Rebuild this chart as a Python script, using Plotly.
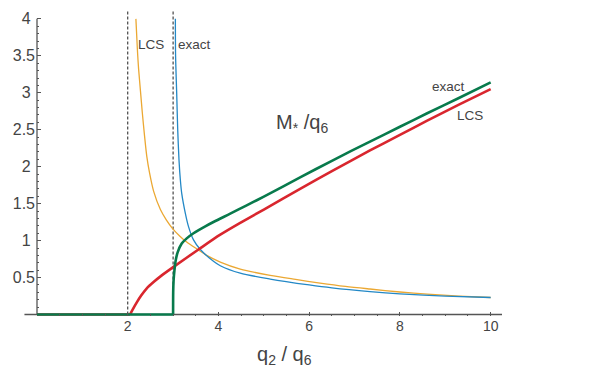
import plotly.graph_objects as go

# ---- data ----
# M*/q6, exact (green): zero up to q2/q6 = 3, then rises
exact_M_x = [0, 3.0, 3.002, 3.01, 3.03, 3.06, 3.1, 3.19, 3.3, 3.45, 3.7, 3.9, 4.26, 4.6, 5.0, 5.8, 6.5, 7.34, 8.0, 8.59, 9.3, 10]
exact_M_y = [0, 0, 0.3, 0.45, 0.6, 0.74, 0.84, 0.96, 1.03, 1.10, 1.19, 1.255, 1.365, 1.47, 1.595, 1.855, 2.08, 2.34, 2.54, 2.72, 2.93, 3.14]

# M*/q6, LCS (red): zero up to about 2.05, then rises
lcs_M_x = [0, 2.05, 2.12, 2.2, 2.3, 2.42, 2.57, 2.75, 3.01, 3.56, 4.04, 4.48, 5.0, 5.8, 6.5, 7.34, 8.0, 8.59, 9.3, 10]
lcs_M_y = [0, 0, 0.08, 0.165, 0.26, 0.355, 0.44, 0.53, 0.645, 0.88, 1.08, 1.24, 1.42, 1.70, 1.94, 2.22, 2.43, 2.62, 2.84, 3.05]

# thin orange (LCS) diverging curve
lcs_x = [2.18, 2.21, 2.24, 2.28, 2.32, 2.37, 2.42, 2.48, 2.57, 2.72, 2.85, 2.98, 3.15, 3.30, 3.54, 3.74, 4.04, 4.48, 5.14, 5.7, 6.24, 6.8, 7.34, 8.0, 8.6, 9.3, 10]
lcs_y = [4.0, 3.62, 3.32, 3.03, 2.74, 2.42, 2.14, 1.92, 1.67, 1.42, 1.28, 1.17, 1.06, 0.98, 0.88, 0.80, 0.71, 0.615, 0.53, 0.475, 0.425, 0.38, 0.345, 0.305, 0.277, 0.25, 0.23]

# thin blue (exact) diverging curve
exact_x = [3.05, 3.055, 3.079, 3.102, 3.13, 3.16, 3.19, 3.27, 3.34, 3.45, 3.60, 3.89, 4.04, 4.48, 5.14, 6.0, 6.5, 7.34, 8.0, 9.0, 10]
exact_y = [4.0, 3.5, 3.0, 2.5, 2.09, 1.82, 1.64, 1.37, 1.19, 1.01, 0.88, 0.72, 0.66, 0.56, 0.48, 0.40, 0.36, 0.31, 0.28, 0.25, 0.23]

thresholds = [2, 3]
x_ticks = [2, 4, 6, 8, 10]
y_ticks = [0.5, 1, 1.5, 2, 2.5, 3, 3.5, 4]
y_tick_text = ["0.5", "1&nbsp;", "1.5", "2&nbsp;", "2.5", "3&nbsp;", "3.5", "4&nbsp;"]

ORANGE = "#EBA833"
BLUE = "#2388C6"
RED = "#D9262E"
GREEN = "#087A4C"
AX = "#555555"
TXT = "#444444"
FONT = "Liberation Sans, Arial, sans-serif"

XR = [0, 10.25]
YR = [-0.02, 4.12]

fig = go.Figure()
fig.add_trace(go.Scatter(x=lcs_x, y=lcs_y, mode="lines",
                         line=dict(color=ORANGE, width=1.3, shape="spline", smoothing=0.8)))
fig.add_trace(go.Scatter(x=exact_x, y=exact_y, mode="lines",
                         line=dict(color=BLUE, width=1.3, shape="spline", smoothing=0.8)))
# flat parts (linear) and rising parts (smooth)
fig.add_trace(go.Scatter(x=lcs_M_x[:2], y=lcs_M_y[:2], mode="lines", line=dict(color=RED, width=2.6)))
fig.add_trace(go.Scatter(x=lcs_M_x[1:], y=lcs_M_y[1:], mode="lines",
                         line=dict(color=RED, width=2.6, shape="spline", smoothing=0.8)))
fig.add_trace(go.Scatter(x=exact_M_x[:2], y=exact_M_y[:2], mode="lines", line=dict(color=GREEN, width=2.6)))
fig.add_trace(go.Scatter(x=exact_M_x[1:], y=exact_M_y[1:], mode="lines",
                         line=dict(color=GREEN, width=2.6, shape="spline", smoothing=0.8)))

shapes = []
# x axis line, extending a little left of the origin
shapes.append(dict(type="line", xref="paper", yref="y", x0=-0.027, x1=1, y0=0, y1=0,
                   line=dict(color=AX, width=1.3), layer="below"))
# y axis line at x = 0, up to 4
shapes.append(dict(type="line", xref="paper", yref="y", x0=0, x1=0, y0=0, y1=4,
                   line=dict(color=AX, width=1.3), layer="below"))
for t in thresholds:
    shapes.append(dict(type="line", xref="x", yref="y", x0=t, x1=t, y0=0, y1=YR[1],
                       line=dict(color="#333333", width=1.1, dash="3px,2px"), layer="below"))

ann = [
    dict(x=5.84, y=2.58, text="M<sub>*</sub> /q<sub>6</sub>", font=dict(size=20)),
    dict(x=2.52, y=3.65, text="LCS", font=dict(size=13.5)),
    dict(x=3.48, y=3.65, text="exact", font=dict(size=13.5)),
    dict(x=9.08, y=3.08, text="exact", font=dict(size=13.5)),
    dict(x=9.55, y=2.69, text="LCS", font=dict(size=13.5)),
]
annotations = []
for a in ann:
    a.update(xref="x", yref="y", showarrow=False)
    a["font"].update(family=FONT, color=TXT)
    annotations.append(a)
annotations.append(dict(xref="paper", yref="paper", x=(284 - 37) / 465, y=-0.13,
                        xanchor="center", yanchor="middle", showarrow=False,
                        text="q<sub>2</sub> / q<sub>6</sub>",
                        font=dict(family=FONT, size=20, color=TXT)))

# the page has an 8px body margin, so the figure is shrunk and shifted accordingly
fig.update_layout(
    width=593, height=366,
    margin=dict(l=29, r=99, t=2, b=58),
    paper_bgcolor="white", plot_bgcolor="white",
    showlegend=False,
    shapes=shapes,
    annotations=annotations,
    xaxis=dict(range=XR, showgrid=False, zeroline=False, showline=False,
               tickvals=x_ticks, ticks="inside", ticklen=4, tickcolor=AX, tickwidth=1,
               tickfont=dict(family=FONT, size=14, color=TXT),
               minor=dict(dtick=0.5, tick0=0, ticks="inside", ticklen=2, tickcolor=AX, showgrid=False)),
    yaxis=dict(range=YR, showgrid=False, zeroline=False, showline=False,
               tickvals=y_ticks, ticktext=y_tick_text, ticks="inside", ticklen=4, tickcolor=AX, tickwidth=1,
               ticklabelstandoff=1,
               tickfont=dict(family=FONT, size=16, color=TXT),
               minor=dict(tickvals=[i / 10 for i in range(1, 40) if i % 5], ticks="inside", ticklen=2,
                          tickcolor=AX, showgrid=False)),
)

fig.write_html("out.html")
